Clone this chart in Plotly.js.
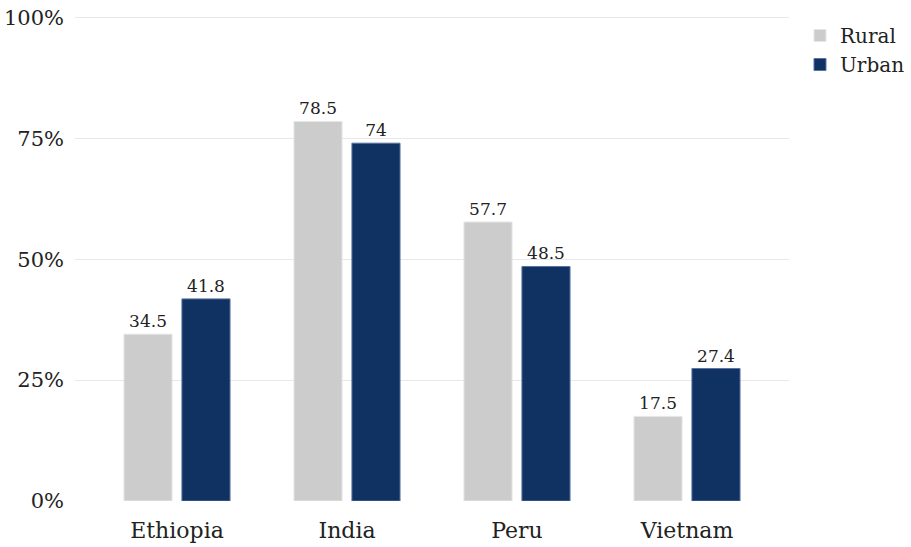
<!DOCTYPE html>
<html>
<head>
<meta charset="utf-8">
<script src="https://cdn.plot.ly/plotly-3.0.1.min.js"></script>
<style>html,body{margin:0;padding:0;background:#fff;}#chart{width:911px;height:547px;}</style>
</head>
<body>
<div id="chart"></div>
<script>
const countries = ["Ethiopia", "India", "Peru", "Vietnam"];
const rural = [34.5, 78.5, 57.7, 17.5];
const urban = [41.8, 74, 48.5, 27.4];
const yTickVals = [0, 25, 50, 75, 100];
const yTickText = ["0%", "25%", "50%", "75%", "100%"];

const font = "DejaVu Serif, serif";
const traces = [
  {type: "bar", name: "Rural", x: countries, y: rural,
   marker: {color: "#cccccc", line: {color: "#e6e6e6", width: 1}},
   text: rural.map(String), textposition: "outside", cliponaxis: false,
   textfont: {family: font, size: 17, color: "#222"}, hoverinfo: "x+y"},
  {type: "bar", name: "Urban", x: countries, y: urban,
   marker: {color: "#0f3263", line: {color: "#5a73a0", width: 1}},
   text: urban.map(String), textposition: "outside", cliponaxis: false,
   textfont: {family: font, size: 17, color: "#222"}, hoverinfo: "x+y"}
];
const layout = {
  width: 911, height: 547,
  margin: {l: 75, r: 122, t: 16, b: 46, autoexpand: false},
  paper_bgcolor: "#fff", plot_bgcolor: "#fff",
  font: {family: font, size: 20, color: "#222"},
  barmode: "group", bargap: 0.318, bargroupgap: 0.17,
  xaxis: {range: [-0.6, 3.6], showgrid: false, zeroline: false, showline: false, ticks: "", automargin: false,
          tickfont: {family: font, size: 22, color: "#222"}, ticklabelstandoff: 14},
  yaxis: {range: [0, 100.3], tickvals: yTickVals, ticktext: yTickText, showgrid: true, automargin: false,
          gridcolor: "#e8e8e8", gridwidth: 1, zeroline: false, showline: false, ticks: "",
          tickfont: {family: font, size: 21, color: "#222"}, ticklabelstandoff: 10},
  legend: {x: 1.0154, xanchor: "left", y: 1.0, yanchor: "top", font: {family: font, size: 20, color: "#222"},
           bgcolor: "rgba(0,0,0,0)", tracegroupgap: 0},
  showlegend: true
};
Plotly.newPlot("chart", traces, layout, {displayModeBar: false, staticPlot: true});
</script>
</body>
</html>
